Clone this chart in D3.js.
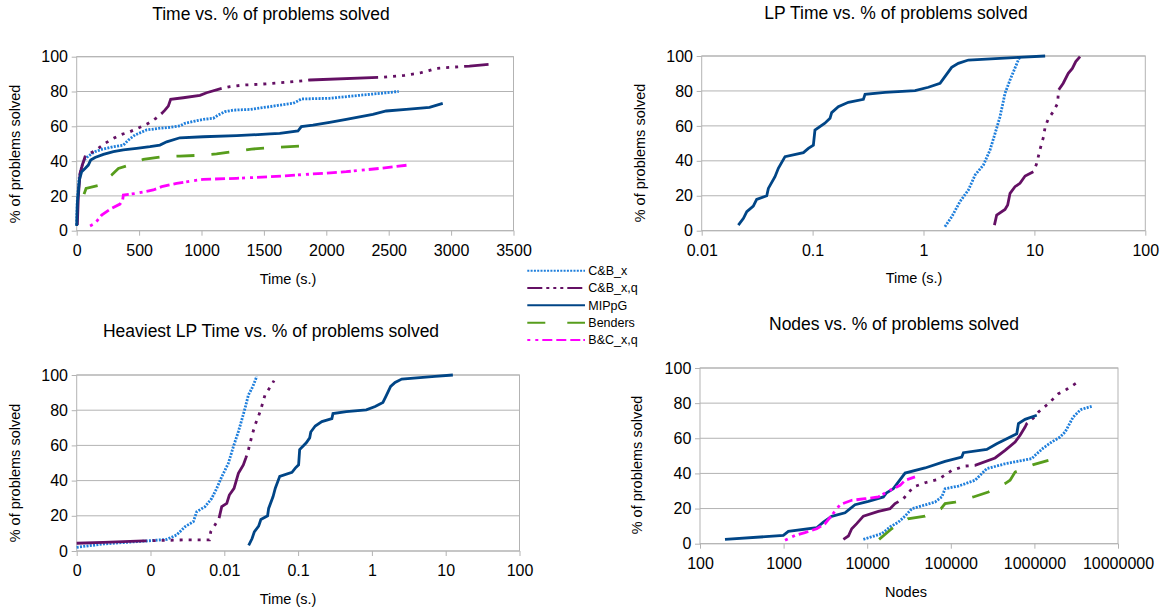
<!DOCTYPE html>
<meta charset="utf-8">
<style>
 body { margin: 0; background: #fff; }
 svg { font-family: "Liberation Sans", Arial, sans-serif; }
 .grid line, .frame { stroke: #b3b3b3; stroke-width: 1px; fill: none; }
 .axis path { display: none; }
 .axis line { stroke: #b3b3b3; }
 .axis text { font-size: 16px; fill: #000; font-family: "Liberation Sans", Arial, sans-serif; }
 .title { font-size: 17.5px; }
 .axis-title { font-size: 14.5px; }
 .legend text { font-size: 12.5px; }
 .series { fill: none; stroke-width: 2.8px; }
</style>
<svg width="1169" height="611"></svg>
<script src="https://d3js.org/d3.v7.min.js"></script>
<script>

 // series names, in legend order
 var seriesNames = ["C&B_x", "C&B_x,q", "MIPpG", "Benders", "B&C_x,q"];

 // Time (s.) vs % solved
 var timeCBx = [[0,3.3],[5,17.6],[21,31],[40,36.8],[59,40.6],[93,42.9],[147,45.4],[200,46.7],[294,48.3],[374,49.2],[414,52.1],[467,55],[560,57.9],[681,59],[747,59.4],[827,60.2],[867,61.7],[948,63],[1014,64],[1094,64.6],[1134,66.5],[1188,68.4],[1254,69.3],[1388,69.7],[1548,71.3],[1627,72.2],[1733,73.2],[1760,74.1],[1800,75.7],[2027,76.1],[2293,78],[2427,78.9],[2580,80]];
 var timeCBxq = [[5,3.3],[13,19.5],[27,33],[45,37.7],[67,42.5],[107,44.4],[173,47.3],[227,50.2],[280,52.5],[347,55],[427,56.9],[507,59.4],[574,61.7],[635,64.6],[681,67.4],[707,69.3],[734,71.6],[753,75.5],[854,76.4],[988,77.8],[1041,79.3],[1161,81.8],[1228,82.8],[1334,83.7],[1495,84.3],[1675,85.3],[1813,86.2],[1867,86.6],[2427,88.1],[2493,88.5],[2560,88.9],[2627,89.3],[2693,90],[2760,90.8],[2821,92],[2880,93.3],[2952,93.7],[3080,94.3],[3147,94.6],[3300,95.6]];
 var timeMIPpG = [[0,2.7],[5,15.7],[21,29],[40,33.9],[67,35.8],[93,37.7],[112,40.6],[147,42.1],[214,43.9],[294,45.4],[374,46.4],[480,47.3],[587,48.3],[667,49.2],[721,51.1],[827,53.4],[1014,54],[1281,54.6],[1548,55.6],[1627,55.9],[1773,57.3],[1800,59.8],[1893,60.7],[2027,62.3],[2160,64],[2373,66.9],[2480,68.8],[2640,69.7],[2827,70.9],[2933,73.2]];
 var timeBenders = [[59,21],[75,24.3],[181,26.2],[280,32],[334,35.8],[406,37.4],[534,41],[681,42.5],[827,42.9],[974,43.3],[1121,44.1],[1254,45.4],[1401,46.9],[1548,47.7],[1800,48.7]];
 var timeBC = [[107,2.7],[147,4.2],[200,9],[267,12.3],[347,15.3],[368,17.6],[374,20.5],[480,21.5],[614,23.4],[681,25.3],[801,27.2],[934,28.7],[1014,29.5],[1281,30.1],[1548,31],[1893,32.6],[2160,33.9],[2427,35.8],[2653,37.7]];
 var timeTicks = [0, 500, 1000, 1500, 2000, 2500, 3000, 3500];

 // LP time (s.) vs % solved
 var lpCBx = [[1.56,2.3],[1.8,8],[2.13,16.6],[2.54,23.3],[2.92,31.9],[3.47,37.6],[3.98,46.2],[4.42,55.7],[4.9,65.3],[5.43,78.6],[6.03,86.3],[7.16,97.7],[7.41,99.6]];
 var lpCBxq = [[4.36,3.2],[4.57,9],[5.43,12.2],[5.74,14.7],[6.03,21.4],[6.68,25.2],[7.41,27.1],[8.24,31.3],[9.8,33.8],[10.5,38.5],[11.2,46.2],[12.1,53.8],[12.5,59.5],[13.4,64.3],[14.8,68.1],[16.2,72.9],[16.5,80.5],[18.2,84.4],[20.2,90.1],[22,92.9],[23.6,96.8],[25.8,99.6]];
 var lpMIPpG = [[0.0214,3.2],[0.0238,7.1],[0.0255,10.9],[0.0292,14.1],[0.0313,17.9],[0.0386,20],[0.0399,24.2],[0.0458,30.9],[0.0491,35.7],[0.0564,42.4],[0.0826,44.7],[0.0916,47.1],[0.1016,49],[0.105,57.6],[0.129,61.5],[0.1436,64.3],[0.1486,67.6],[0.1706,71],[0.21,73.5],[0.287,75.2],[0.297,78.1],[0.45,79.2],[0.84,80.2],[1.107,82.1],[1.41,84.4],[1.56,88.2],[1.795,93.5],[2.06,95.8],[2.54,97.7],[7.16,99.2],[12.5,100]];
 var lpTicks = [0.01, 0.1, 1, 10, 100];
 var lpTickLabels = ["0.01", "0.1", "1", "10", "100"];

 // heaviest LP time (s.) vs % solved
 var heavyCBx = [[0.0001,2.1],[0.00023,4.0],[0.00065,5.3],[0.00166,6.6],[0.00226,9.1],[0.00294,13.8],[0.00381,16.7],[0.00423,22.3],[0.00548,25.2],[0.00675,29.9],[0.00789,35.6],[0.00923,42.2],[0.01135,49.8],[0.01327,59.3],[0.01552,67.8],[0.01722,74.4],[0.0191,81.1],[0.0212,88.6],[0.0243,93.4],[0.0275,99.1]];
 var heavyCBxq = [[0.0001,4.4],[0.00023,4.9],[0.0008,5.7],[0.00109,5.9],[0.00184,6.1],[0.00279,6.3],[0.00469,6.3],[0.00628,6.3],[0.00655,11],[0.00748,14.8],[0.00849,18.6],[0.00923,25.2],[0.0108,27.1],[0.0117,31.8],[0.01355,35.6],[0.01552,44.1],[0.01811,48.9],[0.01972,53.2],[0.0212,57.4],[0.0235,65],[0.0261,71.6],[0.0289,76.3],[0.0311,80.1],[0.0356,88.6],[0.0408,92.4],[0.0472,96.8]];
 var heavyMIPpG = lpMIPpG; // same curve in both plots
 var heavyTicks = [0.0001, 0.001, 0.01, 0.1, 1, 10, 100];
 var heavyTickLabels = ["0", "0", "0.01", "0.1", "1", "10", "100"];

 // nodes vs % solved
 var nodesCBx = [[9000,2.5],[14900,5.7],[18760,9.5],[23600,12.3],[28400,15.7],[34100,19.9],[64800,23.7],[78000,26.6],[85500,31.3],[123400,32.8],[195000,36.1],[269000,42.7],[445800,45.5],[929000,48.4],[1020000,50.3],[1280000,54.5],[1610000,57.9],[2030000,60.7],[2330000,63.6],[2550000,67],[2900000,72],[3570000,76.3],[4840000,78.2]];
 var nodesCBxq = [[5190,2.5],[5960,4.4],[6530,8.5],[7490,11.4],[9000,15.7],[13600,18.4],[18760,19.9],[21540,22.8],[27100,25.6],[35660,32.3],[49200,34.7],[71000,36.6],[102500,41.7],[148300,44.2],[195000,44.6],[338300,48.8],[445800,53.1],[587600,57.9],[674300,61.7],[773400,66.4],[809800,68.3],[1000000,72],[1120000,75],[1470000,79.7],[1940000,85.4],[2440000,87.9],[3570000,93]];
 var nodesMIPpG = [[199,2.5],[993,4.7],[1140,7],[2489,9.1],[2990,12.3],[3760,15.6],[5430,17.6],[7150,22.2],[10320,24.1],[15600,26.6],[17100,29],[20550,31.3],[28380,40.2],[49200,43.1],[85400,46.9],[135200,49.3],[141600,51.8],[269300,53.7],[354300,56.9],[615500,62.6],[644200,68.3],[773400,70.8],[1067000,73.1]];
 var nodesBenders = [[13880,2.5],[19600,8.5],[30500,14.2],[49200,15.7],[76400,19.9],[85400,22.8],[112500,23.7],[186000,26.6],[281500,29.4],[445800,34.2],[511800,36.1],[587600,40.8],[973000,45],[1470000,47.4]];
 var nodesBC = [[1040,1.9],[1370,4.7],[1800,6.3],[2490,8.5],[3130,11.4],[3760,16.1],[4730,22.2],[6530,24.7],[9420,25.6],[13600,26.6],[18760,30.4],[24700,33.2],[28400,36.1],[37300,38]];
 var nodesTicks = [100, 1000, 10000, 100000, 1000000, 10000000];

 var yTicks = [0, 20, 40, 60, 80, 100];

 // line looks, keyed by series name
 var looks = {
   "C&B_x":   { color: "#1f7fdc", dash: "2,1.3", legendDash: "2,1.3" },
   "C&B_x,q": { color: "#641064", dash: "70,6,3,6,3,6,3,6,3,6,3,6,3,6,3,6,3,6,3,6", legendDash: "15,4,3,4,3,4,3,4" },
   "MIPpG":   { color: "#004586", dash: null, legendDash: null },
   "Benders": { color: "#579d1c", dash: "18,17", legendDash: "18,22" },
   "B&C_x,q": { color: "#ff00ff", dash: "3,5,3,4,10,4,10,4,10,3", legendDash: "3,5,3,4,10,4,10,4,10,3" }
 };

 var svg = d3.select("svg");

 var charts = [
   { title: "Time vs. % of problems solved", tx: 271, ty: 14,
     left: 76.7, right: 513.5, top: 56.7, bottom: 230.7,
     log: false, domain: [0, 3500], ticks: timeTicks, tickLabels: null,
     xTitle: "Time (s.)", xtx: 288, xty: 279, ytx: 14.7, yty: 154,
     data: { "C&B_x": timeCBx, "C&B_x,q": timeCBxq, "MIPpG": timeMIPpG, "Benders": timeBenders, "B&C_x,q": timeBC } },
   { title: "LP Time vs. % of problems solved", tx: 896, ty: 12.5,
     left: 701.7, right: 1145.3, top: 56, bottom: 230.7,
     log: true, domain: [0.01, 100], ticks: lpTicks, tickLabels: lpTickLabels,
     xTitle: "Time (s.)", xtx: 914, xty: 278, ytx: 639.6, yty: 153,
     data: { "C&B_x": lpCBx, "C&B_x,q": lpCBxq, "MIPpG": lpMIPpG } },
   { title: "Heaviest LP Time vs. % of problems solved", tx: 271, ty: 330.7,
     left: 76.7, right: 519.5, top: 375, bottom: 551,
     log: true, domain: [0.0001, 100], ticks: heavyTicks, tickLabels: heavyTickLabels,
     xTitle: "Time (s.)", xtx: 288, xty: 599.3, ytx: 14.6, yty: 473,
     data: { "C&B_x": heavyCBx, "C&B_x,q": heavyCBxq, "MIPpG": heavyMIPpG } },
   { title: "Nodes vs. % of problems solved", tx: 894, ty: 324,
     left: 700, right: 1118, top: 368, bottom: 543.7,
     log: true, domain: [100, 10000000], ticks: nodesTicks, tickLabels: null,
     xTitle: "Nodes", xtx: 906, xty: 591.7, ytx: 637.2, yty: 465,
     data: { "C&B_x": nodesCBx, "C&B_x,q": nodesCBxq, "MIPpG": nodesMIPpG, "Benders": nodesBenders, "B&C_x,q": nodesBC } }
 ];

 charts.forEach(drawChart);

 function drawChart(c) {
   var x = (c.log ? d3.scaleLog() : d3.scaleLinear())
             .domain(c.domain)
             .range([c.left, c.right]);
   var y = d3.scaleLinear()
             .domain([0, 100])
             .range([c.bottom, c.top]);

   var g = svg.append("g");

   // horizontal grid
   g.append("g")
    .attr("class", "grid")
    .selectAll("line")
    .data(yTicks)
    .enter().append("line")
    .attr("x1", c.left).attr("x2", c.right)
    .attr("y1", function(d) { return y(d); })
    .attr("y2", function(d) { return y(d); });

   g.append("rect")
    .attr("class", "frame")
    .attr("x", c.left).attr("y", c.top)
    .attr("width", c.right - c.left)
    .attr("height", c.bottom - c.top);

   var xAxis = d3.axisBottom(x)
                 .tickValues(c.ticks)
                 .tickSize(5)
                 .tickPadding(8.5)
                 .tickFormat(function(d, i) { return c.tickLabels ? c.tickLabels[i] : String(d); });
   g.append("g")
    .attr("class", "axis")
    .attr("transform", "translate(0," + c.bottom + ")")
    .call(xAxis);

   var yAxis = d3.axisLeft(y)
                 .tickValues(yTicks)
                 .tickSize(5)
                 .tickPadding(3.7);
   g.append("g")
    .attr("class", "axis")
    .attr("transform", "translate(" + c.left + ",0)")
    .call(yAxis);

   var line = d3.line()
                .x(function(d) { return x(d[0]); })
                .y(function(d) { return y(d[1]); });

   seriesNames.forEach(function(name) {
     if (!c.data[name]) return;
     var look = looks[name];
     g.append("path")
      .attr("class", "series")
      .attr("d", line(c.data[name]))
      .attr("stroke", look.color)
      .attr("stroke-dasharray", look.dash);
   });

   g.append("text")
    .attr("class", "title")
    .attr("x", c.tx).attr("y", c.ty)
    .attr("dy", "0.35em")
    .attr("text-anchor", "middle")
    .text(c.title);

   g.append("text")
    .attr("class", "axis-title")
    .attr("x", c.xtx).attr("y", c.xty)
    .attr("dy", "0.35em")
    .attr("text-anchor", "middle")
    .text(c.xTitle);

   g.append("text")
    .attr("class", "axis-title")
    .attr("transform", "translate(" + c.ytx + "," + c.yty + ") rotate(-90)")
    .attr("dy", "0.35em")
    .attr("text-anchor", "middle")
    .text("% of problems solved");
 }

 // legend in the middle
 var legend = svg.append("g").attr("class", "legend");
 var rowY = d3.scalePoint().domain(seriesNames).range([270.7, 340]);

 var row = legend.selectAll("g")
                 .data(seriesNames)
                 .enter().append("g")
                 .attr("transform", function(d) { return "translate(0," + rowY(d) + ")"; });

 row.append("line")
    .attr("x1", 527.3).attr("x2", 585)
    .attr("stroke-width", 2)
    .attr("stroke", function(d) { return looks[d].color; })
    .attr("stroke-dasharray", function(d) { return looks[d].legendDash; });

 row.append("text")
    .attr("x", 588.3)
    .attr("dy", "0.35em")
    .text(function(d) { return d; });

</script>
